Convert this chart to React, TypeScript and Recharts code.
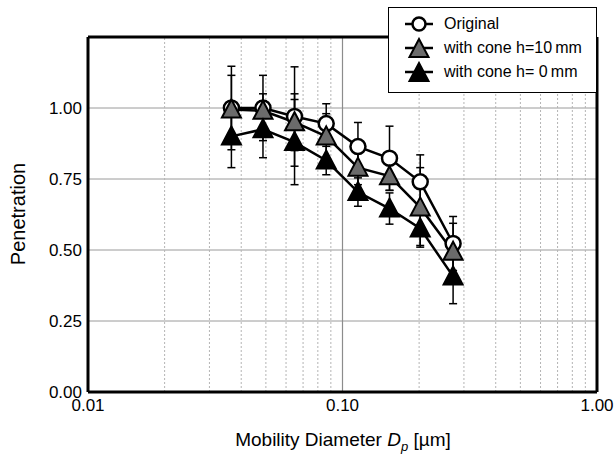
import { LineChart, Line, XAxis, YAxis, CartesianGrid, ReferenceLine, ErrorBar } from "recharts";

// mobility diameter in µm
const diameters = [0.0366, 0.0487, 0.0648, 0.0863, 0.115, 0.153, 0.202, 0.272];

const original = [1.0, 1.0, 0.97, 0.945, 0.864, 0.823, 0.74, 0.523];
const originalErr = [0.147, 0.115, 0.175, 0.07, 0.085, 0.113, 0.095, 0.095];

const cone10 = [0.995, 0.99, 0.95, 0.9, 0.79, 0.76, 0.65, 0.494];
const cone10Err = [0.12, 0.06, 0.1, 0.08, 0.06, 0.05, 0.14, 0.1];

const cone0 = [0.9, 0.925, 0.88, 0.815, 0.704, 0.646, 0.576, 0.407];
const cone0Err = [0.11, 0.1, 0.15, 0.05, 0.05, 0.055, 0.06, 0.096];

const xTicks = [0.01, 0.1, 1];
const xMinor = [0.02, 0.03, 0.04, 0.05, 0.06, 0.07, 0.08, 0.09, 0.2, 0.3, 0.4, 0.5, 0.6, 0.7, 0.8, 0.9];
const yTicks = [0, 0.25, 0.5, 0.75, 1.0];

const rows = diameters.map((d, i) => ({
  d,
  original: original[i],
  originalErr: originalErr[i],
  cone10: cone10[i],
  cone10Err: cone10Err[i],
  cone0: cone0[i],
  cone0Err: cone0Err[i],
}));

const FONT = "'Liberation Sans', Arial, sans-serif";
const GRAY_TRI = "#6b6b6b";

function Triangle({ cx, cy, fill }: { cx: number; cy: number; fill: string }) {
  if (cx == null || cy == null) return null;
  return (
    <path
      d={`M${cx},${cy - 10} L${cx + 9.5},${cy + 8} L${cx - 9.5},${cy + 8} Z`}
      fill={fill}
      stroke="#000"
      strokeWidth={2}
    />
  );
}

function LegendIcon({ kind }: { kind: "circle" | "gray" | "black" }) {
  return (
    <svg width={30} height={22} style={{ display: "block" }}>
      <line x1={1} y1={11} x2={29} y2={11} stroke="#000" strokeWidth={2.5} />
      {kind === "circle" ? (
        <circle cx={15} cy={11} r={6.5} fill="#fff" stroke="#000" strokeWidth={2.5} />
      ) : (
        <Triangle cx={15} cy={12} fill={kind === "gray" ? GRAY_TRI : "#000"} />
      )}
    </svg>
  );
}

const legendItems: { kind: "circle" | "gray" | "black"; label: string }[] = [
  { kind: "circle", label: "Original" },
  { kind: "gray", label: "with cone h=10\u2009mm" },
  { kind: "black", label: "with cone h= 0\u2009mm" },
];

export default function App() {
  return (
    <div style={{ position: "absolute", left: 0, top: 0, width: 614, height: 455, background: "#fff", fontFamily: FONT }}>
      <LineChart width={614} height={455} data={rows} margin={{ top: 37, right: 17, bottom: 0, left: 0 }}>
        <CartesianGrid vertical={false} stroke="#9a9a9a" strokeWidth={1} />
        {xMinor.map((v) => (
          <ReferenceLine key={v} x={v} stroke="#b4b4b4" strokeDasharray="2 2" strokeWidth={1} />
        ))}
        <ReferenceLine x={0.1} stroke="#8c8c8c" strokeWidth={1.2} />
        <ReferenceLine y={1.25} stroke="#000" strokeWidth={3} />
        <ReferenceLine x={1} stroke="#000" strokeWidth={3} />
        <XAxis
          dataKey="d"
          type="number"
          scale="log"
          domain={[0.01, 1]}
          ticks={xTicks}
          allowDataOverflow
          tickFormatter={(v: number) => v.toFixed(2)}
          axisLine={{ stroke: "#000", strokeWidth: 3 }}
          tickLine={false}
          tickSize={0}
          tickMargin={7}
          height={63}
          tick={{ fill: "#000", fontSize: 17, fontFamily: FONT }}
          label={{
            content: () => (
              <text x={343} y={446} textAnchor="middle" fontSize={19} fontFamily={FONT} fill="#000">
                Mobility Diameter <tspan fontStyle="italic">D</tspan>
                <tspan fontStyle="italic" fontSize={13} dy={5}>p</tspan>
                <tspan dy={-5}> [µm]</tspan>
              </text>
            ),
          }}
        />
        <YAxis
          type="number"
          domain={[0, 1.25]}
          ticks={yTicks}
          allowDataOverflow
          tickFormatter={(v: number) => v.toFixed(2)}
          axisLine={{ stroke: "#000", strokeWidth: 3 }}
          tickLine={false}
          tickSize={0}
          tickMargin={6}
          width={88}
          tick={{ fill: "#000", fontSize: 17, fontFamily: FONT }}
          label={{
            content: () => (
              <text
                x={18}
                y={214}
                transform="rotate(-90 18 214)"
                textAnchor="middle"
                dominantBaseline="central"
                fontSize={20}
                fontFamily={FONT}
                fill="#000"
              >
                Penetration
              </text>
            ),
          }}
        />
        <Line
          dataKey="original"
          stroke="#000"
          strokeWidth={2.5}
          isAnimationActive={false}
          dot={(p: any) => (
            <circle key={`o-${p.index}`} cx={p.cx} cy={p.cy} r={7.5} fill="#fff" stroke="#000" strokeWidth={2.5} />
          )}
        >
          <ErrorBar dataKey="originalErr" width={4} stroke="#000" strokeWidth={1.5} direction="y" />
        </Line>
        <Line
          dataKey="cone10"
          stroke="#000"
          strokeWidth={2.5}
          isAnimationActive={false}
          dot={(p: any) => <Triangle key={`g-${p.index}`} cx={p.cx} cy={p.cy} fill={GRAY_TRI} />}
        >
          <ErrorBar dataKey="cone10Err" width={4} stroke="#000" strokeWidth={1.5} direction="y" />
        </Line>
        <Line
          dataKey="cone0"
          stroke="#000"
          strokeWidth={2.5}
          isAnimationActive={false}
          dot={(p: any) => <Triangle key={`b-${p.index}`} cx={p.cx} cy={p.cy} fill="#000" />}
        >
          <ErrorBar dataKey="cone0Err" width={4} stroke="#000" strokeWidth={1.5} direction="y" />
        </Line>
      </LineChart>

      {/* legend box sits over the top border of the plot */}
      <div
        style={{
          position: "absolute",
          left: 388,
          top: 7,
          width: 209,
          height: 86,
          boxSizing: "border-box",
          border: "1.5px solid #000",
          background: "#fff",
          paddingTop: 4,
        }}
      >
        {legendItems.map((it) => (
          <div key={it.label} style={{ display: "flex", alignItems: "center", height: 24, marginLeft: 15 }}>
            <LegendIcon kind={it.kind} />
            <span style={{ fontSize: 16, marginLeft: 10, color: "#000", whiteSpace: "nowrap" }}>{it.label}</span>
          </div>
        ))}
      </div>
    </div>
  );
}
